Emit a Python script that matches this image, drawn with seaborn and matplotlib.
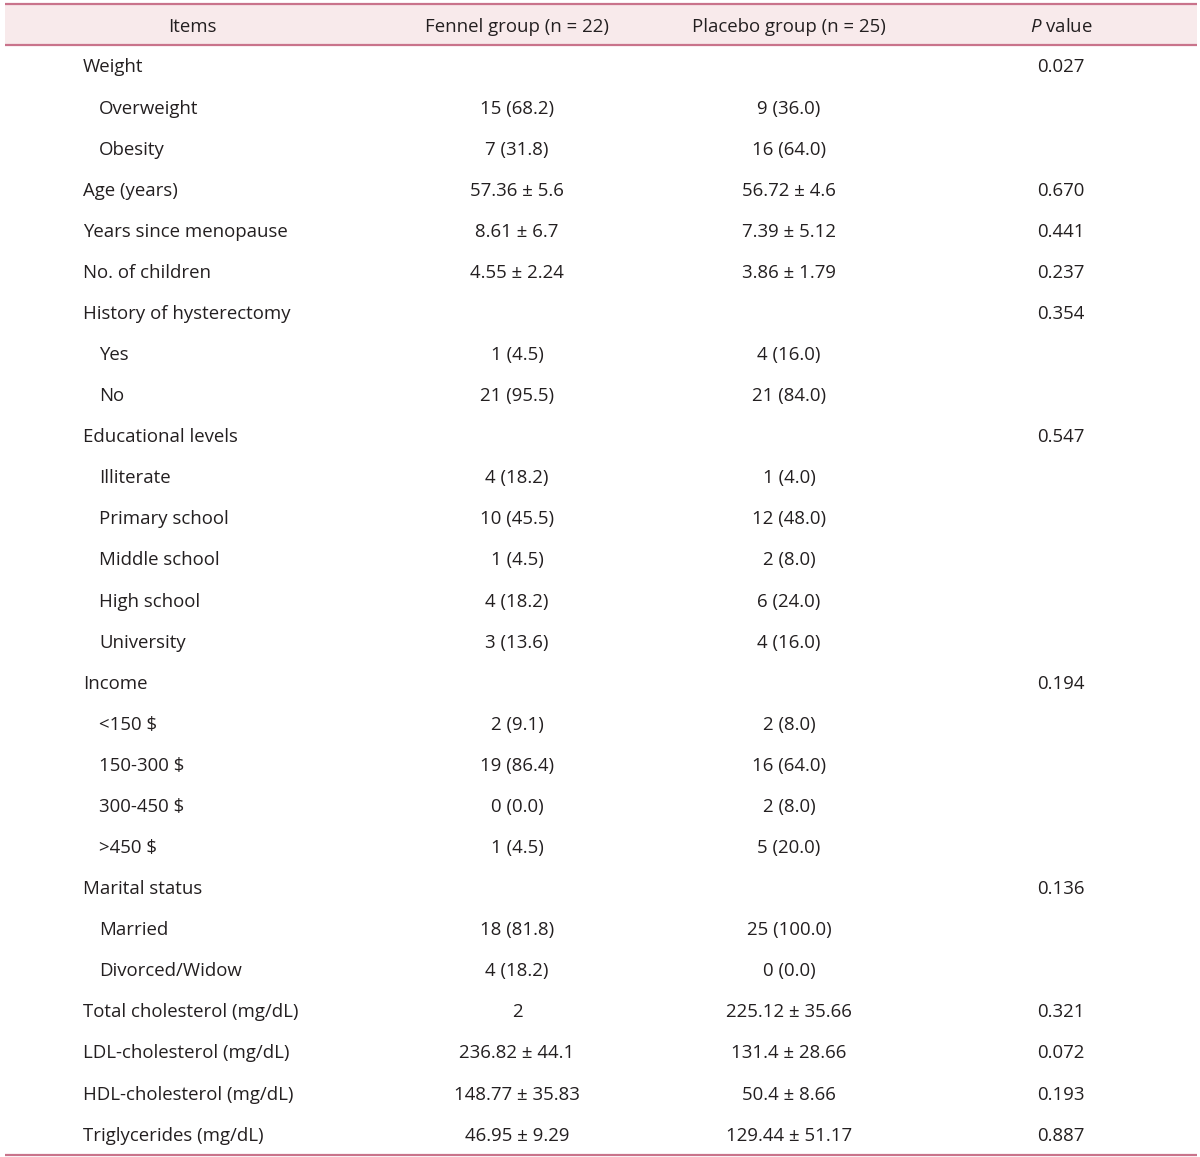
import numpy as np
import pandas as pd
import matplotlib
matplotlib.use("Agg")
import matplotlib.pyplot as plt
import seaborn as sns

# table content
headers = ["Items", "Fennel group (n = 22)", "Placebo group (n = 25)", "$P$ value"]
items = ["Weight", "Overweight", "Obesity", "Age (years)", "Years since menopause",
         "No. of children", "History of hysterectomy", "Yes", "No", "Educational levels",
         "Illiterate", "Primary school", "Middle school", "High school", "University",
         "Income", "<150 $", "150-300 $", "300-450 $", ">450 $", "Marital status",
         "Married", "Divorced/Widow", "Total cholesterol (mg/dL)", "LDL-cholesterol (mg/dL)",
         "HDL-cholesterol (mg/dL)", "Triglycerides (mg/dL)"]
sub_item = [0, 1, 1, 0, 0, 0, 0, 1, 1, 0, 1, 1, 1, 1, 1, 0, 1, 1, 1, 1, 0, 1, 1, 0, 0, 0, 0]
fennel = ["", "15 (68.2)", "7 (31.8)", "57.36 ± 5.6", "8.61 ± 6.7", "4.55 ± 2.24", "",
          "1 (4.5)", "21 (95.5)", "", "4 (18.2)", "10 (45.5)", "1 (4.5)", "4 (18.2)",
          "3 (13.6)", "", "2 (9.1)", "19 (86.4)", "0 (0.0)", "1 (4.5)", "", "18 (81.8)",
          "4 (18.2)", "2", "236.82 ± 44.1", "148.77 ± 35.83", "46.95 ± 9.29"]
placebo = ["", "9 (36.0)", "16 (64.0)", "56.72 ± 4.6", "7.39 ± 5.12", "3.86 ± 1.79", "",
           "4 (16.0)", "21 (84.0)", "", "1 (4.0)", "12 (48.0)", "2 (8.0)", "6 (24.0)",
           "4 (16.0)", "", "2 (8.0)", "16 (64.0)", "2 (8.0)", "5 (20.0)", "", "25 (100.0)",
           "0 (0.0)", "225.12 ± 35.66", "131.4 ± 28.66", "50.4 ± 8.66", "129.44 ± 51.17"]
p_value = ["0.027", "", "", "0.670", "0.441", "0.237", "0.354", "", "", "0.547",
           "", "", "", "", "", "0.194", "", "", "", "", "0.136", "", "", "0.321",
           "0.072", "0.193", "0.887"]

df = pd.DataFrame({"item": items, "sub": sub_item, "fennel": fennel,
                   "placebo": placebo, "p": p_value})
df["row"] = np.arange(len(df))

sns.set_theme(style="white")
plt.rcParams["font.family"] = ["Open Sans", "DejaVu Sans"]
plt.rcParams["mathtext.fontset"] = "custom"
plt.rcParams["mathtext.it"] = "Open Sans:italic"
plt.rcParams["mathtext.rm"] = "Open Sans"

txt = "#231f20"
line_c = "#c9738b"
band_c = "#f8eaeb"
fs = 13.4

fig = plt.figure(figsize=(12, 11.57), dpi=100)
ax = fig.add_axes([0, 0, 1, 1])
ax.set_xlim(0, 1200)
ax.set_ylim(1157, 0)
ax.axis("off")

# header band
ax.fill_between([5, 1197], 4, 45, color=band_c, lw=0)
ax.hlines([4, 45], 5, 1197, color=line_c, lw=1.6)
ax.hlines(1155, 5, 1197, color=line_c, lw=1.6)

col_x = [192, 517, 789, 1061]
for x, h in zip(col_x, headers):
    ax.text(x, 26.5, h, ha="center", va="center", fontsize=fs, color=txt)

row_y = 67.5 + 41.08 * df["row"]
for y, r in zip(row_y, df.itertuples()):
    ax.text(99 if r.sub else 83, y, r.item, ha="left", va="center", fontsize=fs, color=txt)
    ax.text(col_x[1], y, r.fennel, ha="center", va="center", fontsize=fs, color=txt)
    ax.text(col_x[2], y, r.placebo, ha="center", va="center", fontsize=fs, color=txt)
    ax.text(col_x[3], y, r.p, ha="center", va="center", fontsize=fs, color=txt)

fig.savefig("out.png", dpi=100)
